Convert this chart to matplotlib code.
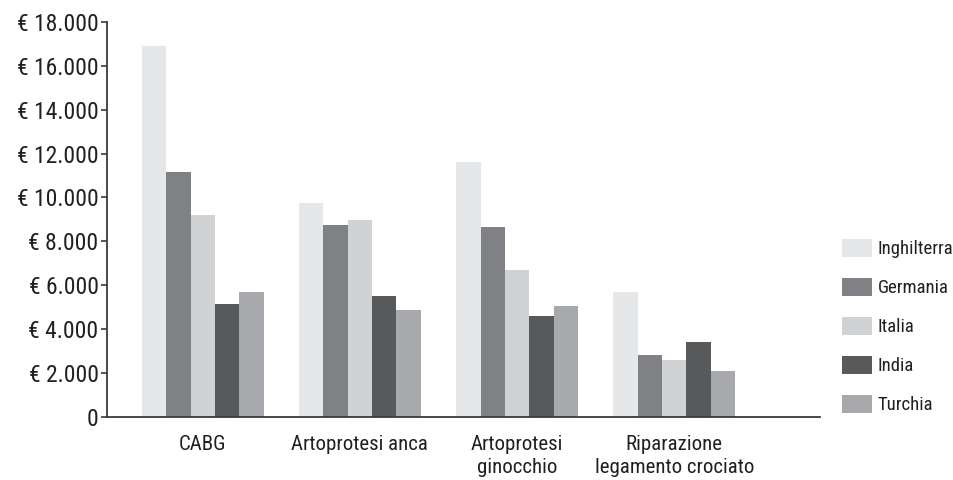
import matplotlib
matplotlib.use("Agg")
import matplotlib.pyplot as plt
import numpy as np
from matplotlib.ticker import FuncFormatter
from matplotlib import font_manager

# condensed sans, first one that is installed
fams = {f.name for f in font_manager.fontManager.ttflist}
for nome_font in ['Roboto Condensed', 'Archivo Narrow', 'DejaVu Sans']:
    if nome_font in fams:
        break
plt.rcParams['font.family'] = [nome_font]
plt.rcParams['font.stretch'] = 'condensed'

procedure = ['CABG', 'Artoprotesi anca', 'Artoprotesi\nginocchio', 'Riparazione\nlegamento crociato']
paesi = ['Inghilterra', 'Germania', 'Italia', 'India', 'Turchia']
inghilterra = [16900, 9750, 11600, 5700]
germania = [11150, 8750, 8650, 2800]
italia = [9200, 8950, 6700, 2600]
india = [5150, 5500, 4600, 3400]
turchia = [5700, 4850, 5050, 2100]
colori = ['#e6e7e8', '#808184', '#d1d2d4', '#58595b', '#a7a9ac']

serie = [inghilterra, germania, italia, india, turchia]

fig = plt.figure(figsize=(9.54, 4.8), dpi=100)
ax = fig.add_axes([0.112, 0.132, 0.748, 0.822])

x = np.arange(len(procedure))
w = 0.155
for i, (vals, nome, col) in enumerate(zip(serie, paesi, colori)):
    ax.bar(x + (i - 2) * w, vals, width=w, color=col, label=nome, zorder=2)

ax.set_xlim(-0.61, 3.93)
ax.set_ylim(0, 18000)
ax.set_yticks(range(0, 18001, 2000))
ax.yaxis.set_major_formatter(FuncFormatter(
    lambda v, p: '0' if v == 0 else '€ ' + f'{int(v):,}'.replace(',', '.')))
ax.set_xticks(x)
ax.set_xticklabels(procedure, fontsize=15, color='#231f20', linespacing=1.3)

for s in ['top', 'right']:
    ax.spines[s].set_visible(False)
for s in ['left', 'bottom']:
    ax.spines[s].set_color('#3a3a3a')
    ax.spines[s].set_linewidth(1.3)
ax.spines['bottom'].set_zorder(3)
ax.tick_params(axis='y', length=4, width=1.2, color='#3a3a3a', labelsize=17, labelcolor='#231f20', pad=2)
ax.tick_params(axis='x', length=0, pad=13)

ax.legend(loc='center left', bbox_to_anchor=(1.017, 0.228), frameon=False, fontsize=13.5,
          borderpad=0, handlelength=1.6, handleheight=1.1, labelspacing=1.05, handletextpad=0.3,
          labelcolor='#231f20')

fig.savefig('out.png', dpi=100)
